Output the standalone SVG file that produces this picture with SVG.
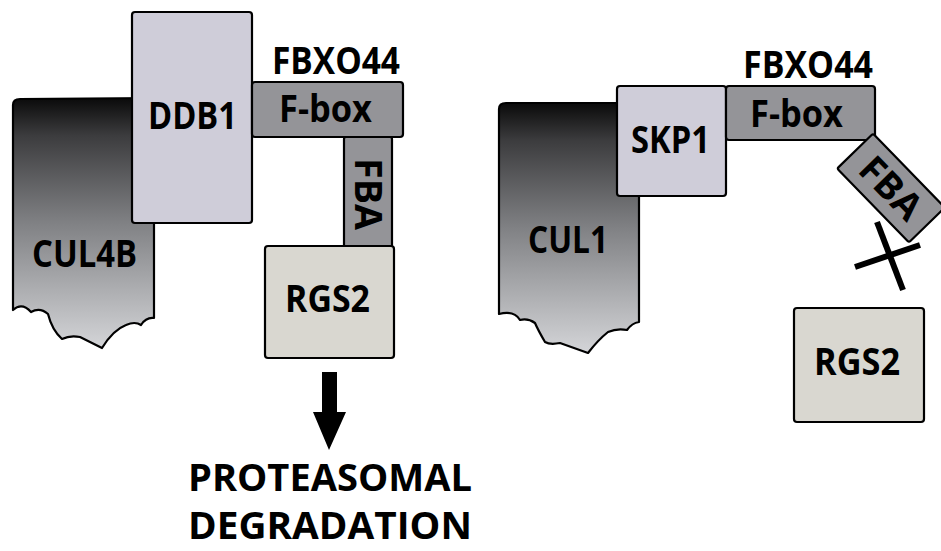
<svg xmlns="http://www.w3.org/2000/svg" width="941" height="551" viewBox="0 0 941 551">
<defs>
<linearGradient id="cul" x1="0" y1="0" x2="0" y2="1">
<stop offset="0" stop-color="#0a0a0a"/>
<stop offset="0.15" stop-color="#3c3c3e"/>
<stop offset="0.5" stop-color="#808184"/>
<stop offset="1" stop-color="#d4d5d8"/>
</linearGradient>
<style>
.sh{stroke:#000;stroke-width:2.2;stroke-linejoin:round}
.cul{fill:url(#cul)}
.adp{fill:#cfcdd9}
.fb{fill:#949498}
.rgs{fill:#d9d7d0}
.t{font-family:"Open Sans","Liberation Sans",sans-serif;font-weight:700;fill:#000;font-size:37px}
.x{stroke:#000;stroke-width:6;stroke-linecap:butt}
</style>
</defs>
<rect width="941" height="551" fill="#fff"/>

<!-- LEFT COMPLEX -->
<g id="cul4b">
<path class="sh cul" d="M13,310 L13,105 Q13,99 20,99 L154,98 L154,318 Q146,317 141,325 Q135,321 126,325 Q113,330 102,348 L80,337 Q70,335 62,339 Q52,330 48,314 Q40,307 31,312 Q22,302 13,310 Z"/>
<text class="t" x="32" y="267" textLength="105" lengthAdjust="spacingAndGlyphs">CUL4B</text>
</g>
<g id="ddb1">
<rect class="sh adp" x="132" y="12" width="120" height="211" rx="3"/>
<text class="t" x="148" y="129" textLength="89" lengthAdjust="spacingAndGlyphs">DDB1</text>
</g>
<g id="fbxo44-left">
<text class="t" x="272" y="74" font-size="34" textLength="128" lengthAdjust="spacingAndGlyphs">FBXO44</text>
<rect class="sh fb" x="252" y="82" width="151" height="55" rx="3"/>
<text class="t" x="279" y="122" textLength="93" lengthAdjust="spacingAndGlyphs">F-box</text>
<rect class="sh fb" x="344" y="137" width="48" height="110" rx="2"/>
<text class="t" transform="translate(355,158) rotate(90)" x="0" y="0" textLength="72" lengthAdjust="spacingAndGlyphs">FBA</text>
</g>
<g id="rgs2-left">
<rect class="sh rgs" x="265" y="246" width="129" height="112" rx="3"/>
<text class="t" x="285" y="312" textLength="85" lengthAdjust="spacingAndGlyphs">RGS2</text>
</g>
<g id="degradation">
<text class="t" x="188" y="491" font-size="37" textLength="284" lengthAdjust="spacingAndGlyphs">PROTEASOMAL</text>
<text class="t" x="188" y="539" font-size="37" textLength="284" lengthAdjust="spacingAndGlyphs">DEGRADATION</text>
</g>

<!-- RIGHT COMPLEX -->
<g id="cul1">
<path class="sh cul" d="M499,314 L499,109 Q499,103 506,103 L639,103 L639,322 Q632,323 627,330 Q617,328 608,332 Q598,340 588,353 L560,343 Q550,345 545,342 Q538,330 535,323 Q528,318 520,320 Q514,310 499,314 Z"/>
<text class="t" x="528" y="253" textLength="80" lengthAdjust="spacingAndGlyphs">CUL1</text>
</g>
<g id="skp1">
<rect class="sh adp" x="617" y="86" width="109" height="110" rx="3"/>
<text class="t" x="631" y="153" textLength="79" lengthAdjust="spacingAndGlyphs">SKP1</text>
</g>
<g id="fbxo44-right">
<text class="t" x="743" y="78" font-size="34" textLength="130" lengthAdjust="spacingAndGlyphs">FBXO44</text>
<rect class="sh fb" x="726" y="86" width="149" height="54" rx="3"/>
<text class="t" x="750" y="127" textLength="93" lengthAdjust="spacingAndGlyphs">F-box</text>
<g transform="translate(891,188) rotate(-44.2)">
<rect class="sh fb" x="-25" y="-51.5" width="50" height="103" rx="2"/>
<text class="t" transform="rotate(90)" x="0" y="13" text-anchor="middle" textLength="72" lengthAdjust="spacingAndGlyphs">FBA</text>
</g>
</g>
<g id="rgs2-right">
<rect class="sh rgs" x="794" y="308" width="130" height="114" rx="3"/>
<text class="t" x="814" y="375" textLength="86" lengthAdjust="spacingAndGlyphs">RGS2</text>
</g>

<!-- CONNECTORS -->
<g id="connectors">
<path d="M322,372 L337,372 L337,412 L346,412 L329,450 L313,412 L322,412 Z" fill="#000"/>
<line class="x" x1="877" y1="222" x2="903" y2="290"/>
<line class="x" x1="855" y1="267" x2="920" y2="245"/>
</g>
</svg>
